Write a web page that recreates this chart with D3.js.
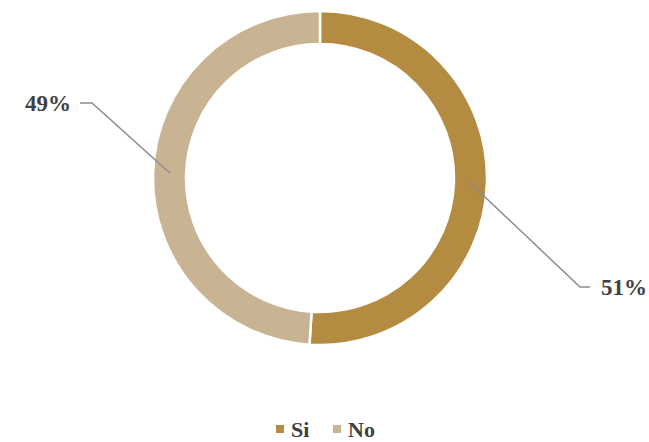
<!DOCTYPE html>
<html><head><meta charset="utf-8">
<script src="https://cdn.jsdelivr.net/npm/d3@7"></script>
<style>body{margin:0;background:#fff}svg{display:block}
text{font-family:"Times New Roman","Liberation Serif",Tinos,serif;font-weight:bold}</style>
</head><body>
<svg id="c" width="649" height="442"></svg>
<script>
const categories = ["Si", "No"];
const values = [51, 49];
const labels = ["51%", "49%"];
const colors = ["#B38C42", "#C8B492"];

const svg = d3.select("#c");
const cx = 320, cy = 178, rOuter = 167, rInner = 134;
const g = svg.append("g").attr("transform", `translate(${cx},${cy})`);
const pie = d3.pie().sort(null).value(d => d.v);
const data = pie(categories.map((c, i) => ({c, v: values[i], l: labels[i], col: colors[i]})));
const arc = d3.arc().innerRadius(rInner).outerRadius(rOuter);
g.selectAll("path.s").data(data).join("path")
  .attr("d", arc).attr("fill", d => d.data.col)
  .attr("stroke", "#fff").attr("stroke-width", 2.5);

const mid = d3.arc().innerRadius(150).outerRadius(150);
const labelPos = {
  "Si": {elbow: [260, 109], end: [270, 109], tx: 281, anchor: "start"},
  "No": {elbow: [-228, -75], end: [-240, -75], tx: -249, anchor: "end"}
};
data.forEach(d => {
  const p = mid.centroid(d);
  const lp = labelPos[d.data.c];
  g.append("polyline")
    .attr("points", [p, lp.elbow, lp.end].map(q => q.join(",")).join(" "))
    .attr("fill", "none").attr("stroke", "#8c8c8c").attr("stroke-width", 1.5);
  g.append("text").attr("x", lp.tx).attr("y", lp.end[1]).attr("dy", "0.35em")
    .attr("text-anchor", lp.anchor)
    .attr("font-size", 23).attr("fill", "#404040")
    .text(d.data.l);
});

const legend = svg.append("g").attr("transform", "translate(276,429)");
const offsets = [0, 57];
categories.forEach((c, i) => {
  const lg = legend.append("g").attr("transform", `translate(${offsets[i]},0)`);
  lg.append("rect").attr("x", 0).attr("y", -4).attr("width", 8).attr("height", 8).attr("fill", colors[i]);
  lg.append("text").attr("x", 15).attr("y", 0).attr("dy", "0.35em")
    .attr("font-size", 22).attr("fill", "#404040").text(c);
});
</script>
</body></html>
